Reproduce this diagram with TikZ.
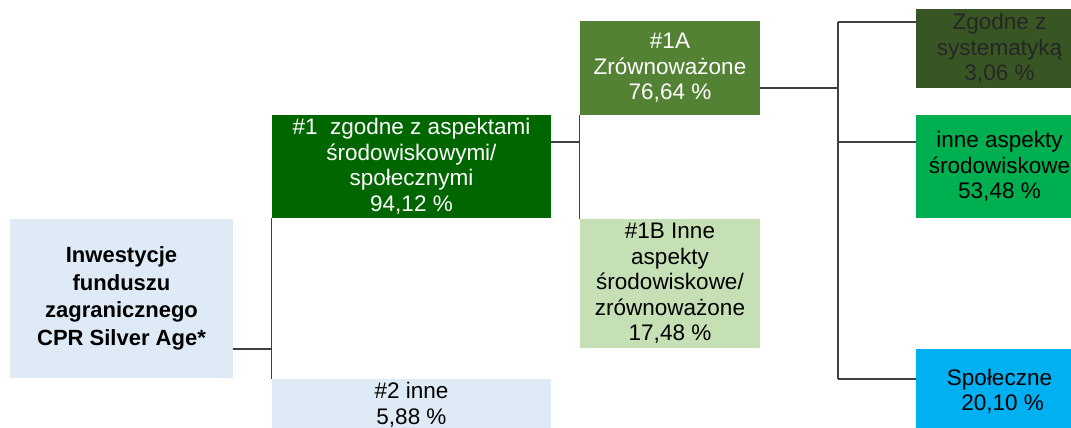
\documentclass[tikz,border=0pt]{standalone}
\usepackage{fontspec}
\setmainfont{Liberation Sans}
\definecolor{mylightblue}{RGB}{222, 235, 247}
\definecolor{mydarkgreen}{RGB}{0, 102, 0}
\definecolor{mygreen}{RGB}{84, 130, 53}
\definecolor{mypalegreen}{RGB}{197, 224, 180}
\definecolor{myolive}{RGB}{56, 86, 35}
\definecolor{mybrightgreen}{RGB}{0, 176, 80}
\definecolor{mycyan}{RGB}{0, 176, 240}

\begin{document}
\begin{tikzpicture}[x=1pt, y=-1pt,
        box/.style={inner sep=0pt, align=center, font=\fontsize{22.5}{25.5}\selectfont},
        link/.style={draw=black!75, line width=1.2pt}]
        \useasboundingbox (0,0) rectangle (1071,428);

        % Root - Inwestycje funduszu
        \node[box, fill=mylightblue, minimum width=223pt, minimum height=159pt,
              font=\fontsize{22}{27.5}\selectfont\bfseries] (root) at (121.5,298.5)
              {Inwestycje\\funduszu\\zagranicznego\\CPR Silver Age*};

        % Level 1 - #1 and #2
        \node[box, fill=mydarkgreen, text=white, minimum width=279pt, minimum height=103pt] (zgodne) at (411.5,166.5)
              {\#1~ zgodne z aspektami\\środowiskowymi/\\społecznymi\\94,12 \%};
        \node[box, fill=mylightblue, minimum width=279pt, minimum height=52pt] (inne) at (411.5,405)
              {\#2 inne\\5,88 \%};

        % Level 2 - #1A and #1B
        \node[box, fill=mygreen, text=white, minimum width=180pt, minimum height=94pt] (zrown) at (670,68)
              {\#1A\\Zrównoważone\\76,64 \%};
        \node[box, fill=mypalegreen, minimum width=180pt, minimum height=129pt] (innesr) at (670,283.5)
              {\#1B Inne\\aspekty\\środowiskowe/\\zrównoważone\\17,48 \%};

        % Level 3 - taksonomia, srodowiskowe, spoleczne
        \node[box, fill=myolive, text=black!85, minimum width=167pt, minimum height=79pt] (taks) at (999.5,48.5)
              {Zgodne z\\systematyką\\3,06 \%};
        \node[box, fill=mybrightgreen, minimum width=167pt, minimum height=103pt] (srod) at (999.5,166.5)
              {inne aspekty\\środowiskowe\\53,48 \%};
        \node[box, fill=mycyan, minimum width=167pt, minimum height=85pt] (spol) at (999.5,391.5)
              {Społeczne\\~20,10 \%};

        % Connectors
        \coordinate (j0) at (272,349);
        \coordinate (j1) at (580,142);
        \coordinate (j2) at (838,88);
        \coordinate (t1) at (838,22);
        \coordinate (t2) at (838,142);
        \coordinate (t3) at (838,379);

        \draw[link] (root.east |- j0) -- (j0);
        \draw[link] (zgodne.south west) -- (inne.north west);

        \draw[link] (zgodne.east |- j1) -- (j1);
        \draw[link] (zrown.south west) -- (innesr.north west);

        \draw[link] (zrown.east |- j2) -- (j2);
        \draw[link] (t1) -- (t3);
        \draw[link] (t1) -- (t1 -| taks.west);
        \draw[link] (t2) -- (t2 -| srod.west);
        \draw[link] (t3) -- (t3 -| spol.west);
\end{tikzpicture}
\end{document}
